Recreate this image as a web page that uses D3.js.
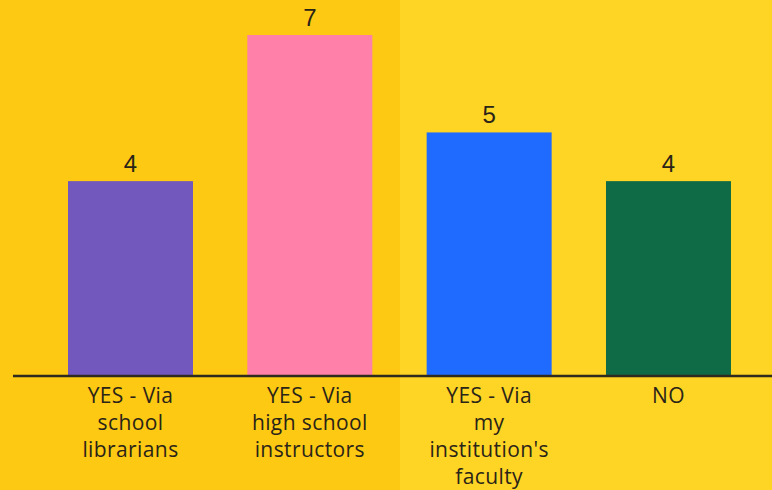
<!DOCTYPE html>
<html><head><meta charset="utf-8">
<script src="https://cdn.jsdelivr.net/npm/d3@7"></script>
<style>body{margin:0;overflow:hidden}svg{display:block}</style>
</head><body>
<script>
const categories = [
  ["YES - Via","school","librarians"],
  ["YES - Via","high school","instructors"],
  ["YES - Via","my","institution's","faculty"],
  ["NO"]
];
const values = [4, 7, 5, 4];
const colors = ["#7257BD", "#FF80A8", "#1F6BFF", "#0F6B45"];

const W = 772, H = 490;
const svg = d3.select("body").append("svg").attr("width", W).attr("height", H);

svg.append("rect").attr("x",0).attr("y",0).attr("width",400).attr("height",H).attr("fill","#FDC913");
svg.append("rect").attr("x",400).attr("y",0).attr("width",W-400).attr("height",H).attr("fill","#FED425");

const idx = d3.range(values.length);
const x = d3.scaleBand().domain(idx).range([14.2, 14.2 + 179.33*4.297]).paddingInner(0.303).paddingOuter(0.3);
const y = d3.scaleLinear().domain([0, 7]).range([376, 35]);

svg.selectAll("rect.bar").data(idx).enter().append("rect")
  .attr("class","bar")
  .attr("x", i => x(i)).attr("width", x.bandwidth())
  .attr("y", i => y(values[i])).attr("height", i => y(0) - y(values[i]))
  .attr("fill", i => colors[i]);

svg.selectAll("text.val").data(idx).enter().append("text")
  .attr("class","val")
  .attr("x", i => x(i) + x.bandwidth()/2)
  .attr("y", i => y(values[i]) - 9)
  .attr("text-anchor","middle")
  .attr("font-family","Liberation Sans, Arial, sans-serif")
  .attr("font-size", 24)
  .attr("fill","#2a2418")
  .text(i => values[i]);

svg.append("line").attr("x1",13).attr("x2",W).attr("y1",376).attr("y2",376)
  .attr("stroke","#2e2a1e").attr("stroke-width",2.5);

const lab = svg.selectAll("text.cat").data(idx).enter().append("text")
  .attr("class","cat")
  .attr("text-anchor","middle")
  .attr("font-family","'Open Sans', sans-serif")
  .attr("font-size", 21)
  .attr("letter-spacing", 0.4)
  .attr("fill","#2a2418");
lab.each(function(i){
  const t = d3.select(this);
  categories[i].forEach((s, k) => {
    t.append("tspan").attr("x", x(i) + x.bandwidth()/2).attr("y", 403 + k*27).text(s);
  });
});
</script>
</body></html>
